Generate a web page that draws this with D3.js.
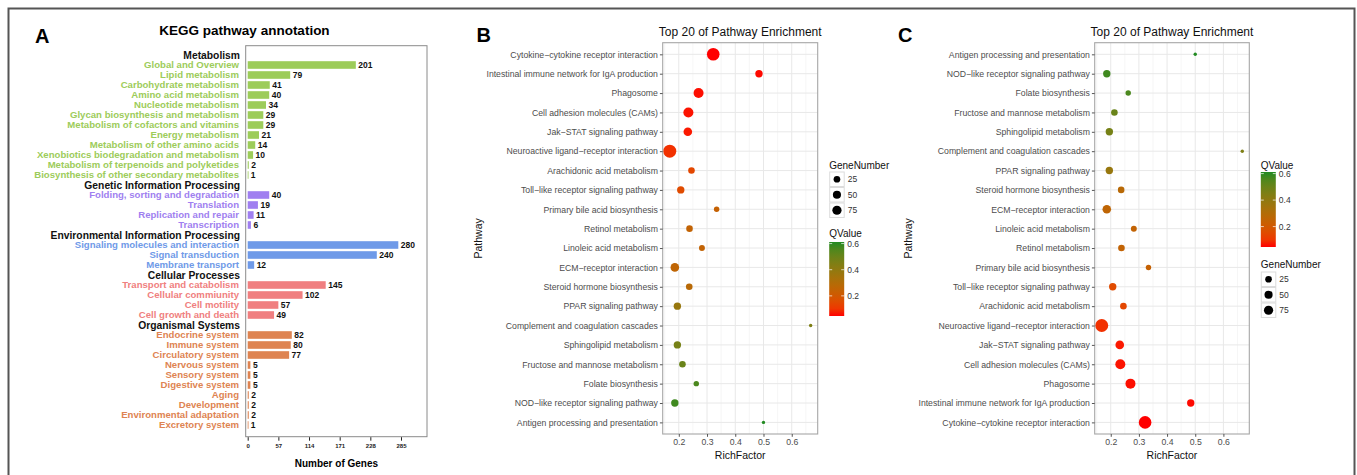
<!DOCTYPE html>
<html>
<head>
<meta charset="utf-8">
<script src="https://cdn.jsdelivr.net/npm/d3@7/dist/d3.min.js"></script>
<style>
body { margin: 0; background: #fff; }
svg text { font-family: "Liberation Sans", Arial, Helvetica, sans-serif; }
</style>
</head>
<body>
<svg id="fig" width="1357" height="475"></svg>
<script>
// ---------- panel A: KEGG annotation ----------
const keggGroups = ["Metabolism", "Genetic Information Processing", "Environmental Information Processing",
    "Cellular Processes", "Organismal Systems"];
const keggColors = ["#9dcc5a", "#a07ff0", "#6f9ae8", "#f07f80", "#de8452"];

const metabolismTerms = ["Global and Overview", "Lipid metabolism", "Carbohydrate metabolism", "Amino acid metabolism",
    "Nucleotide metabolism", "Glycan biosynthesis and metabolism", "Metabolism of cofactors and vitamins",
    "Energy metabolism", "Metabolism of other amino acids", "Xenobiotics biodegradation and metabolism",
    "Metabolism of terpenoids and polyketides", "Biosynthesis of other secondary metabolites"];
const metabolismCounts = [201, 79, 41, 40, 34, 29, 29, 21, 14, 10, 2, 1];

const geneticTerms = ["Folding, sorting and degradation", "Translation", "Replication and repair", "Transcription"];
const geneticCounts = [40, 19, 11, 6];

const environmentalTerms = ["Signaling molecules and interaction", "Signal transduction", "Membrane transport"];
const environmentalCounts = [280, 240, 12];

const cellularTerms = ["Transport and catabolism", "Cellular commiunity", "Cell motility", "Cell growth and death"];
const cellularCounts = [145, 102, 57, 49];

const organismalTerms = ["Endocrine system", "Immune system", "Circulatory system", "Nervous system", "Sensory system",
    "Digestive system", "Aging", "Development", "Environmental adaptation", "Excretory system"];
const organismalCounts = [82, 80, 77, 5, 5, 5, 2, 2, 2, 1];

const geneTicks = [0, 57, 114, 171, 228, 285];

// ---------- panels B / C: top 20 enrichment ----------
const pathways = ["Cytokine\u2212cytokine receptor interaction", "Intestinal immune network for IgA production",
    "Phagosome", "Cell adhesion molecules (CAMs)", "Jak\u2212STAT signaling pathway",
    "Neuroactive ligand\u2212receptor interaction", "Arachidonic acid metabolism",
    "Toll\u2212like receptor signaling pathway", "Primary bile acid biosynthesis", "Retinol metabolism",
    "Linoleic acid metabolism", "ECM\u2212receptor interaction", "Steroid hormone biosynthesis",
    "PPAR signaling pathway", "Complement and coagulation cascades", "Sphingolipid metabolism",
    "Fructose and mannose metabolism", "Folate biosynthesis", "NOD\u2212like receptor signaling pathway",
    "Antigen processing and presentation"];
const richFactor = [0.322, 0.484, 0.270, 0.234, 0.232, 0.168, 0.245, 0.207, 0.334, 0.238,
    0.282, 0.186, 0.237, 0.195, 0.667, 0.195, 0.213, 0.262, 0.186, 0.500];
const qValue = [0.046, 0.05, 0.052, 0.055, 0.06, 0.09, 0.14, 0.15, 0.24, 0.25,
    0.25, 0.26, 0.28, 0.38, 0.45, 0.47, 0.50, 0.56, 0.58, 0.612];
const geneNumber = [184, 36, 96, 96, 60, 200, 24, 36, 11, 24,
    16, 60, 24, 36, 2, 36, 24, 11, 36, 2];

const richTicks = [0.2, 0.3, 0.4, 0.5, 0.6];
const qBreaks = [0.2, 0.4, 0.6];
const sizeBreaks = [25, 50, 75];

const svg = d3.select("#fig");

// outer frame
svg.append("rect").attr("x", 8.5).attr("y", 8.5).attr("width", 1346).attr("height", 480)
    .attr("fill", "none").attr("stroke", "#555").attr("stroke-width", 2);

// ================= Panel A =================
function drawKegg() {
    const g = svg.append("g");
    const groupTerms = [metabolismTerms, geneticTerms, environmentalTerms, cellularTerms, organismalTerms];
    const groupCounts = [metabolismCounts, geneticCounts, environmentalCounts, cellularCounts, organismalCounts];

    let rows = [];
    keggGroups.forEach((grp, gi) => {
        rows.push({id: "h" + gi, name: grp, header: true});
        groupTerms[gi].forEach((t, ti) => {
            rows.push({id: gi + "_" + ti, name: t, value: groupCounts[gi][ti], color: keggColors[gi]});
        });
    });

    const y = d3.scalePoint().domain(rows.map(d => d.id)).range([55, 425]);
    const x = d3.scaleLinear().domain([0, 285]).range([247.7, 401]);

    g.append("text").attr("x", 35).attr("y", 42.7).attr("font-size", 20).attr("font-weight", "bold").text("A");
    g.append("text").attr("x", 244.5).attr("y", 34.5).attr("text-anchor", "middle")
        .attr("font-size", 13.5).attr("font-weight", "bold").text("KEGG pathway annotation");

    g.append("rect").attr("x", 245.7).attr("y", 45.7).attr("width", 181.3).attr("height", 391)
        .attr("fill", "none").attr("stroke", "#8a8a8a").attr("stroke-width", 1);

    const items = rows.filter(d => !d.header);
    const headers = rows.filter(d => d.header);

    g.selectAll(".hdr").data(headers).join("text")
        .attr("x", 240).attr("y", d => y(d.id) + 3.7)
        .attr("text-anchor", "end").attr("font-size", 10.3).attr("font-weight", "bold")
        .attr("fill", "#111").text(d => d.name);

    g.selectAll(".lab").data(items).join("text")
        .attr("x", 239).attr("y", d => y(d.id) + 3.4)
        .attr("text-anchor", "end").attr("font-size", 9.6).attr("font-weight", "bold")
        .attr("fill", d => d.color).text(d => d.name);

    g.selectAll(".bar").data(items).join("rect")
        .attr("x", x(0)).attr("y", d => y(d.id) - 3.8)
        .attr("width", d => Math.max(0.8, x(d.value) - x(0))).attr("height", 7.6)
        .attr("fill", d => d.color);

    g.selectAll(".val").data(items).join("text")
        .attr("x", d => x(d.value) + 2.5).attr("y", d => y(d.id) + 3.2)
        .attr("font-size", 8.5).attr("font-weight", "bold").attr("fill", "#111")
        .text(d => d.value);

    const axis = d3.axisBottom(x).tickValues(geneTicks).tickSize(3.5).tickPadding(3);
    const ag = g.append("g").attr("transform", "translate(0,437.2)").call(axis);
    ag.select(".domain").remove();
    ag.selectAll("line").attr("stroke", "#222").attr("stroke-width", 1);
    ag.selectAll("text").attr("font-size", 6).attr("font-weight", "bold").attr("fill", "#222")
        .attr("font-family", "\"Liberation Sans\", Arial, sans-serif");

    g.append("text").attr("x", 336.4).attr("y", 466.5).attr("text-anchor", "middle")
        .attr("font-size", 10).attr("font-weight", "bold").text("Number of Genes");
}

// ================= Panels B / C =================
const enrichData = pathways.map((p, i) => ({
    name: p, rf: richFactor[i], q: qValue[i], n: geneNumber[i]
}));

const rfExt = d3.extent(richFactor);
const rfPad = (rfExt[1] - rfExt[0]) * 0.05;
const qExt = d3.extent(qValue);
const nExt = d3.extent(geneNumber);

const colorScale = d3.scaleLinear().domain(qExt).range(["#ff0000", "#228b22"]).interpolate(d3.interpolateLab);
const sizeT = d3.scaleLinear().domain(nExt).range([0, 1]);
const sizeR = d3.scaleSqrt().domain([0, 1]).range([1.7, 6.5]);
const radius = n => sizeR(Math.max(0, sizeT(n)));

function drawEnrich(o) {
    const g = svg.append("g");
    const names = o.reverse ? pathways.slice().reverse() : pathways.slice();

    const x = d3.scaleLinear().domain([rfExt[0] - rfPad, rfExt[1] + rfPad]).range([o.left, o.right]);
    const y = d3.scalePoint().domain(names).range([o.top, o.bottom]).padding(0.6);

    g.append("text").attr("x", o.letterX).attr("y", 42).attr("font-size", 20).attr("font-weight", "bold").text(o.letter);
    g.append("text").attr("x", (o.left + o.right) / 2).attr("y", 36).attr("text-anchor", "middle")
        .attr("font-size", 12).attr("fill", "#111").text("Top 20 of Pathway Enrichment");

    // grid
    const minor = [0.15, 0.25, 0.35, 0.45, 0.55, 0.65].filter(v => v > x.domain()[0] && v < x.domain()[1]);
    g.selectAll(".gmin").data(minor).join("line")
        .attr("x1", d => x(d)).attr("x2", d => x(d)).attr("y1", o.top).attr("y2", o.bottom)
        .attr("stroke", "#f0f0f0").attr("stroke-width", 0.6);
    g.selectAll(".gx").data(richTicks).join("line")
        .attr("x1", d => x(d)).attr("x2", d => x(d)).attr("y1", o.top).attr("y2", o.bottom)
        .attr("stroke", "#e8e8e8").attr("stroke-width", 1);
    g.selectAll(".gy").data(names).join("line")
        .attr("x1", o.left).attr("x2", o.right).attr("y1", d => y(d)).attr("y2", d => y(d))
        .attr("stroke", "#e8e8e8").attr("stroke-width", 1);

    // points
    const pts = o.reverse ? enrichData.slice().reverse() : enrichData;
    g.selectAll(".pt").data(pts).join("circle")
        .attr("cx", d => x(d.rf)).attr("cy", d => y(d.name))
        .attr("r", d => radius(d.n)).attr("fill", d => colorScale(d.q));

    g.append("rect").attr("x", o.left).attr("y", o.top).attr("width", o.right - o.left).attr("height", o.bottom - o.top)
        .attr("fill", "none").attr("stroke", "#a6a6a6").attr("stroke-width", 1.1);

    // axes
    const xa = g.append("g").attr("transform", `translate(0,${o.bottom})`)
        .call(d3.axisBottom(x).tickValues(richTicks).tickSize(2.8).tickPadding(2.5).tickFormat(d3.format(".1f")));
    xa.select(".domain").remove();
    xa.selectAll("line").attr("stroke", "#555");
    xa.selectAll("text").attr("font-size", 8.7).attr("fill", "#4d4d4d")
        .attr("font-family", "\"Liberation Sans\", Arial, sans-serif");

    const ya = g.append("g").attr("transform", `translate(${o.left},0)`)
        .call(d3.axisLeft(y).tickSize(2.8).tickPadding(2));
    ya.select(".domain").remove();
    ya.selectAll("line").attr("stroke", "#555");
    ya.selectAll("text").attr("font-size", 8.7).attr("fill", "#4d4d4d")
        .attr("font-family", "\"Liberation Sans\", Arial, sans-serif");

    g.append("text").attr("x", (o.left + o.right) / 2).attr("y", 459).attr("text-anchor", "middle")
        .attr("font-size", 10.5).attr("fill", "#111").text("RichFactor");
    g.append("text").attr("transform", `translate(${o.pathX},${(o.top + o.bottom) / 2}) rotate(-90)`)
        .attr("text-anchor", "middle").attr("font-size", 10.5).attr("fill", "#111").text("Pathway");

    // legends
    const lx = o.right + 11.5;

    // colour bar
    const gradId = "grad" + o.letter;
    const grad = svg.append("defs").append("linearGradient").attr("id", gradId)
        .attr("x1", 0).attr("x2", 0).attr("y1", 1).attr("y2", 0);
    d3.range(0, 1.0001, 0.1).forEach(t => {
        grad.append("stop").attr("offset", t).attr("stop-color", colorScale(qExt[0] + t * (qExt[1] - qExt[0])));
    });
    const cb = o.colorBar;
    g.append("text").attr("x", lx).attr("y", cb.titleY).attr("font-size", 10).attr("fill", "#111").text("QValue");
    g.append("rect").attr("x", lx).attr("y", cb.top).attr("width", 15).attr("height", cb.h)
        .attr("fill", `url(#${gradId})`);
    const qy = d3.scaleLinear().domain(qExt).range([cb.top + cb.h, cb.top]);
    g.selectAll(".qtl").data(qBreaks).join("line")
        .attr("x1", lx).attr("x2", lx + 3).attr("y1", d => qy(d)).attr("y2", d => qy(d))
        .attr("stroke", "#fff").attr("stroke-opacity", 0.7);
    g.selectAll(".qtr").data(qBreaks).join("line")
        .attr("x1", lx + 12).attr("x2", lx + 15).attr("y1", d => qy(d)).attr("y2", d => qy(d))
        .attr("stroke", "#fff").attr("stroke-opacity", 0.7);
    g.selectAll(".qlab").data(qBreaks).join("text")
        .attr("x", lx + 18).attr("y", d => qy(d) + 3).attr("font-size", 8.5).attr("fill", "#333")
        .text(d3.format(".1f"));

    // size legend
    const sl = o.sizeLegend;
    g.append("text").attr("x", lx).attr("y", sl.titleY).attr("font-size", 10).attr("fill", "#111").text("GeneNumber");
    const key = 15.5;
    sizeBreaks.forEach((b, i) => {
        const ky = sl.top + i * key;
        g.append("rect").attr("x", lx + 0.5).attr("y", ky + 0.5).attr("width", key - 1).attr("height", key - 1)
            .attr("fill", "#fff").attr("stroke", "#dcdcdc").attr("stroke-width", 1);
        g.append("circle").attr("cx", lx + key / 2).attr("cy", ky + key / 2).attr("r", radius(b)).attr("fill", "#000");
        g.append("text").attr("x", lx + key + 3).attr("y", ky + key / 2 + 3).attr("font-size", 8.5).attr("fill", "#333").text(b);
    });
}

drawKegg();

drawEnrich({
    letter: "B", letterX: 476.5, pathX: 481.5,
    left: 662.7, right: 817.7, top: 42.7, bottom: 434, reverse: false,
    sizeLegend: {titleY: 168.5, top: 171.5},
    colorBar: {titleY: 237, top: 242, h: 74}
});

drawEnrich({
    letter: "C", letterX: 898, pathX: 911.5,
    left: 1094.7, right: 1249.3, top: 42.7, bottom: 434, reverse: true,
    colorBar: {titleY: 168.5, top: 172, h: 75},
    sizeLegend: {titleY: 268, top: 271.5}
});
</script>
</body>
</html>
